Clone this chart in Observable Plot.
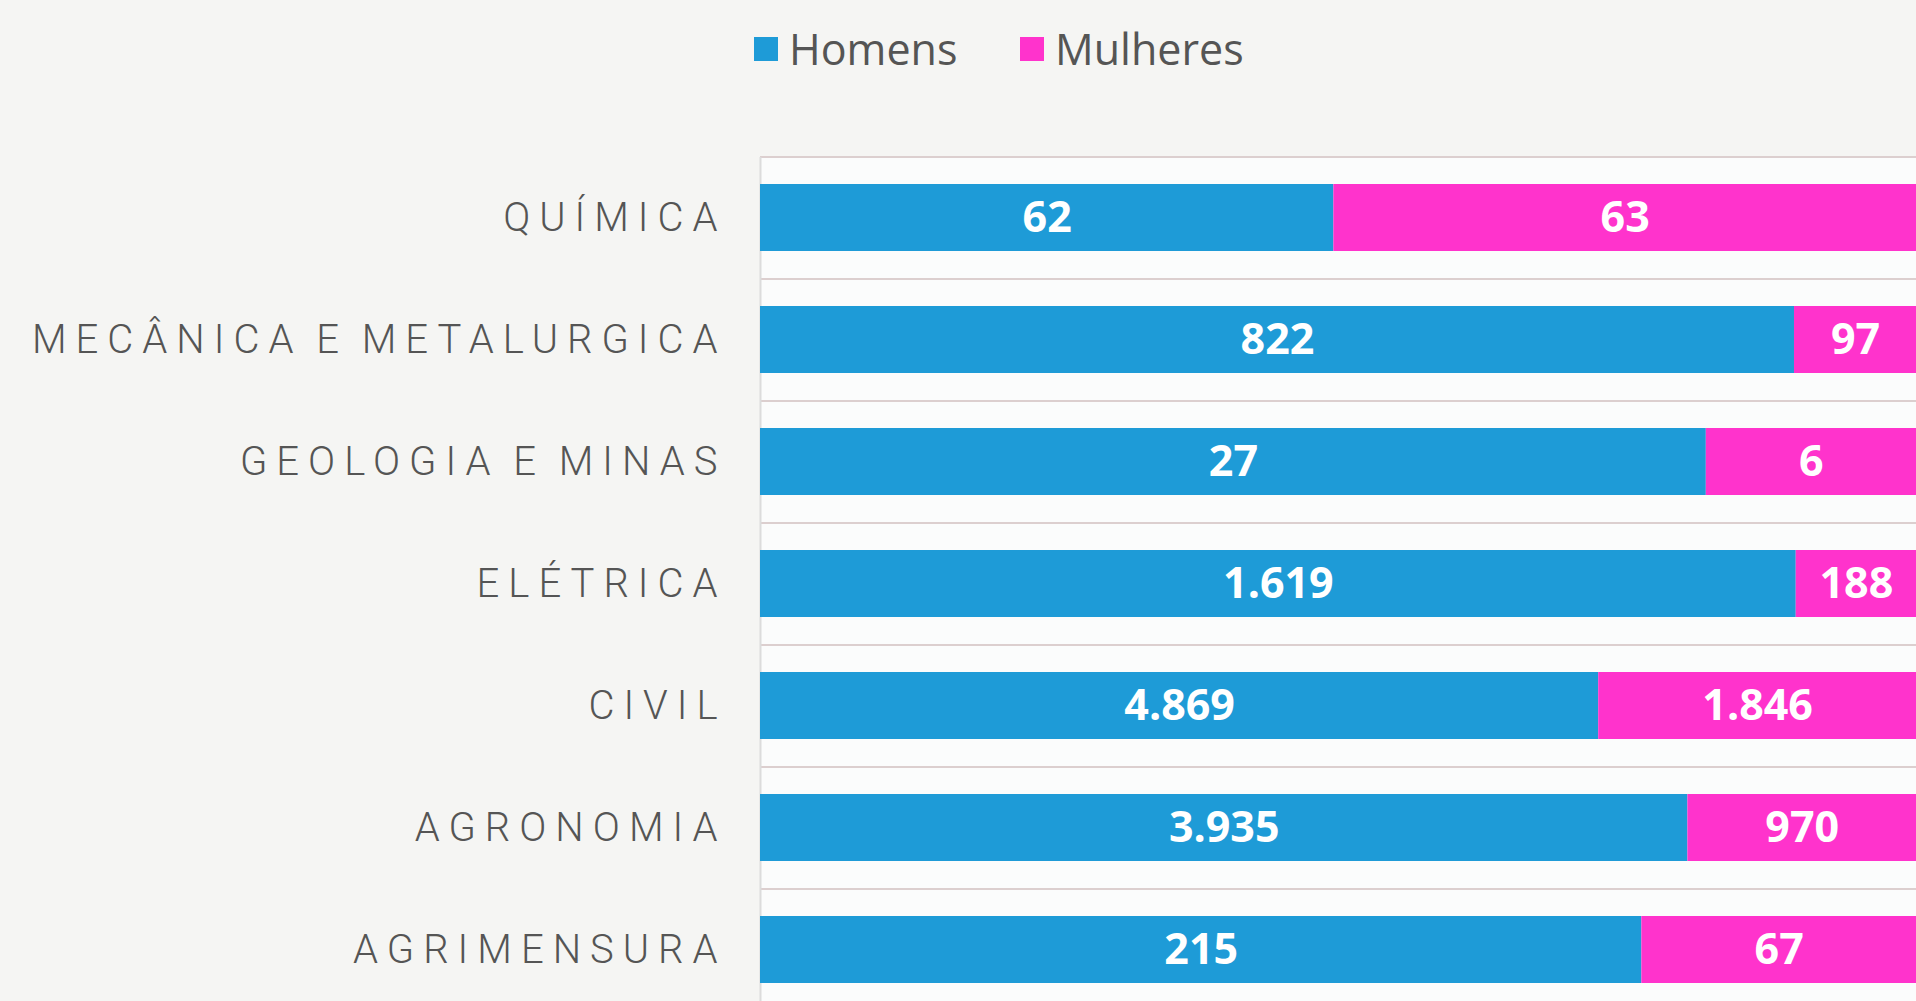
<!DOCTYPE html>
<html>
<head>
<meta charset="utf-8">
<script src="https://cdn.jsdelivr.net/npm/d3@7"></script>
<script src="https://cdn.jsdelivr.net/npm/@observablehq/plot@0.6"></script>
<style>
  html, body { margin: 0; padding: 0; background: #f5f5f3; overflow: hidden; }
  #legend { position: relative; height: 100px; font-family: "Open Sans", sans-serif; color: #555; font-size: 43px; }
  .item { position: absolute; top: 19px; display: flex; align-items: center; }
  .sw { width: 24px; height: 24px; margin-right: 11px; }
  .chart [aria-label="y-axis tick label"] text { letter-spacing: 9px; word-spacing: -5px; font-weight: 300; }
</style>
</head>
<body>
<div id="legend"></div>
<div id="chart"></div>
<script>
const categorias = ["QUÍMICA", "MECÂNICA E METALURGICA", "GEOLOGIA E MINAS", "ELÉTRICA", "CIVIL", "AGRONOMIA", "AGRIMENSURA"];
const homens = [62, 822, 27, 1619, 4869, 3935, 215];
const mulheres = [63, 97, 6, 188, 1846, 970, 67];
const series = ["Homens", "Mulheres"];
const cores = ["#1e9bd7", "#ff33cc"];

const dados = categorias.flatMap((c, i) => [
  {cat: c, sexo: series[0], valor: homens[i]},
  {cat: c, sexo: series[1], valor: mulheres[i]}
]);

const loc = d3.formatLocale({decimal: ",", thousands: ".", grouping: [3], currency: ["R$", ""]});
const fmt = loc.format(",d");

// legend
const legend = document.getElementById("legend");
const lefts = [754, 1020];
series.forEach((s, i) => {
  const it = document.createElement("div");
  it.className = "item";
  it.style.left = lefts[i] + "px";
  it.innerHTML = `<span class="sw" style="background:${cores[i]}"></span><span>${s}</span>`;
  legend.appendChild(it);
});

const chart = Plot.plot({
  className: "chart",
  width: 1916,
  height: 911,
  marginLeft: 760,
  marginRight: 0,
  marginTop: 57,
  marginBottom: 0,
  style: {background: "transparent", fontFamily: "Roboto, sans-serif", color: "#555"},
  x: {axis: null, domain: [0, 1]},
  y: {domain: categorias, paddingInner: 0.45, paddingOuter: 0.225, label: null, axis: null},
  color: {domain: series, range: cores},
  marks: [
    Plot.frame({fill: "#fbfcfc", stroke: null}),
    Plot.ruleY(categorias, {y: d => d, dy: -61, stroke: "#dccfcf", strokeWidth: 2}),
    Plot.ruleY([categorias[categorias.length - 1]], {y: d => d, dy: 61, stroke: "#dccfcf", strokeWidth: 2}),
    Plot.ruleX([0], {stroke: "#dcdcdc", strokeWidth: 2}),
    Plot.barX(dados, Plot.stackX({x: "valor", y: "cat", fill: "sexo", offset: "normalize"})),
    Plot.text(dados, Plot.stackX({x: "valor", y: "cat", z: "sexo", offset: "normalize",
      text: d => fmt(d.valor), fill: "white", fontSize: 43, fontWeight: 700, fontFamily: "'Open Sans', sans-serif"})),
    Plot.axisY({tickSize: 0, tickPadding: 34, fontSize: 40})
  ]
});
document.getElementById("chart").appendChild(chart);
</script>
</body>
</html>
